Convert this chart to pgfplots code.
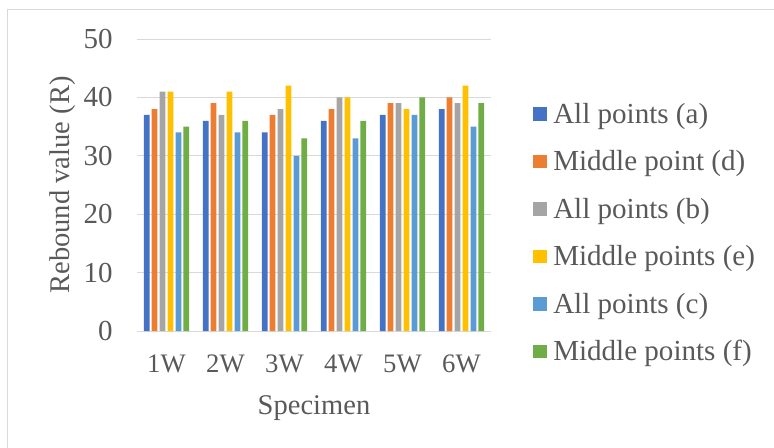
\documentclass[border=0pt]{standalone}
\usepackage{pgfplots}
\pgfplotsset{compat=1.18}
\usepackage{fontspec}
\setmainfont{Liberation Serif}
\definecolor{txt}{HTML}{595959}
\definecolor{gridc}{HTML}{D9D9D9}
\definecolor{c1}{HTML}{4472C4}
\definecolor{c2}{HTML}{ED7D31}
\definecolor{c3}{HTML}{A5A5A5}
\definecolor{c4}{HTML}{FFC000}
\definecolor{c5}{HTML}{5B9BD5}
\definecolor{c6}{HTML}{70AD47}
\begin{document}
\begin{tikzpicture}
\useasboundingbox (0,0) rectangle (580.5pt,335.25pt);
\draw[gridc,line width=0.75pt] (5.6pt,-5pt) -- (5.6pt,328.1pt) -- (590pt,328.1pt);
\begin{axis}[
  at={(102.75pt,87pt)}, anchor=south west,
  scale only axis, width=265.5pt, height=219pt,
  ybar=1.65pt, bar width=4.3pt,
  xmin=-0.5, xmax=5.5, ymin=0, ymax=50,
  xtick={0,1,2,3,4,5},
  xticklabels={1W,2W,3W,4W,5W,6W},
  ytick={0,10,20,30,40,50},
  ymajorgrids, grid style={gridc,line width=0.75pt},
  axis line style={draw=none},
  major tick length=0pt,
  /pgf/number format/assume math mode=true,
  tick label style={text=txt},
  yticklabel style={anchor=east,inner sep=0pt,xshift=-18pt,font=\fontsize{21.75pt}{24pt}\selectfont},
  xticklabel style={anchor=north,inner sep=0pt,yshift=-18pt,font=\fontsize{20pt}{22pt}\selectfont},
  ylabel={Rebound value (R)},
  xlabel={Specimen},
  every axis y label/.style={at={(axis description cs:-0.21,0.5)},rotate=90,anchor=center,text=txt,font=\fontsize{21.4pt}{24pt}\selectfont},
  every axis x label/.style={at={(axis description cs:0.5,-0.2637)},anchor=center,text=txt,font=\fontsize{21.4pt}{24pt}\selectfont},
  legend style={at={(axis description cs:1.1186,0.3356)},anchor=west,draw=none,fill=none,
    font=\fontsize{21.8pt}{24pt}\selectfont,text=txt,inner sep=0pt,row sep=16pt,column sep=3pt,
    nodes={inner sep=1.5pt}},
  legend cell align=left,
  legend image code/.code={\fill[#1] (0pt,-5pt) rectangle (10.5pt,5pt);},
]
\addplot[fill=c1,draw=none] coordinates {(0,37) (1,36) (2,34) (3,36) (4,37) (5,38)};
\addplot[fill=c2,draw=none] coordinates {(0,38) (1,39) (2,37) (3,38) (4,39) (5,40)};
\addplot[fill=c3,draw=none] coordinates {(0,41) (1,37) (2,38) (3,40) (4,39) (5,39)};
\addplot[fill=c4,draw=none] coordinates {(0,41) (1,41) (2,42) (3,40) (4,38) (5,42)};
\addplot[fill=c5,draw=none] coordinates {(0,34) (1,34) (2,30) (3,33) (4,37) (5,35)};
\addplot[fill=c6,draw=none] coordinates {(0,35) (1,36) (2,33) (3,36) (4,40) (5,39)};
\legend{All points (a),Middle point (d),All points (b),Middle points (e),All points (c),Middle points (f)}
\end{axis}
\end{tikzpicture}
\end{document}
